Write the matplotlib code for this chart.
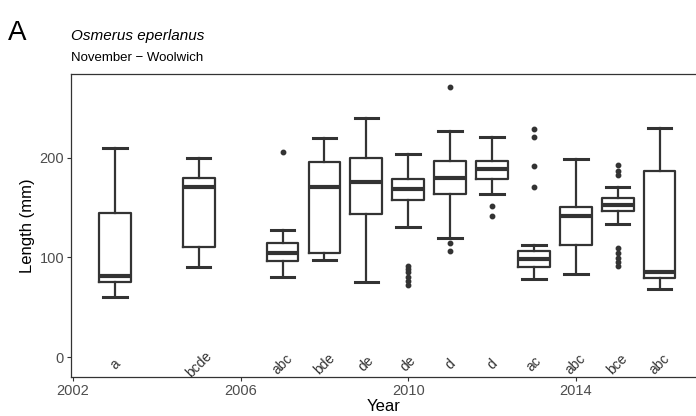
import matplotlib
matplotlib.use("Agg")
import matplotlib.pyplot as plt

plt.rcParams['font.family'] = ['Liberation Sans', 'DejaVu Sans']

years = [2003, 2005, 2007, 2008, 2009, 2010, 2011, 2012, 2013, 2014, 2015, 2016]
whisker_low = [60, 90, 80, 97, 75, 130, 119, 164, 78, 83, 134, 68]
q1 = [75, 110, 96, 104, 144, 158, 164, 179, 90, 112, 147, 79]
median = [81, 171, 104, 171, 176, 169, 180, 189, 98, 142, 153, 85]
q3 = [145, 180, 114, 196, 200, 179, 197, 197, 106, 151, 160, 187]
whisker_high = [210, 200, 127, 220, 240, 204, 227, 221, 112, 199, 171, 230]
outliers = [
    [],
    [],
    [206],
    [],
    [],
    [91, 88, 85, 80, 76, 72],
    [271, 114, 106],
    [152, 142],
    [229, 221, 192, 171],
    [],
    [193, 187, 183, 109, 104, 99, 95, 91],
    [],
]
letters = ['a', 'bcde', 'abc', 'bde', 'de', 'de', 'd', 'd', 'ac', 'abc', 'bce', 'abc']

line_col = '#333333'
stats = []
for i in range(len(years)):
    stats.append({
        'whislo': whisker_low[i], 'q1': q1[i], 'med': median[i],
        'q3': q3[i], 'whishi': whisker_high[i], 'fliers': outliers[i],
    })

fig = plt.figure(figsize=(6.96, 4.16), dpi=100)
ax = fig.add_axes([71 / 696, 39 / 416, 625 / 696, 303 / 416])

ax.bxp(stats, positions=years, widths=0.76, showfliers=True,
       boxprops=dict(color=line_col, linewidth=1.6),
       medianprops=dict(color=line_col, linewidth=3),
       whiskerprops=dict(color=line_col, linewidth=1.6),
       capprops=dict(color=line_col, linewidth=2.2),
       flierprops=dict(marker='o', markersize=3.2, markerfacecolor=line_col,
                       markeredgecolor=line_col, linestyle='none'),
       capwidths=0.56, manage_ticks=False)

for x, lab in zip(years, letters):
    ax.text(x, -7, lab, rotation=45, ha='center', va='center',
            fontsize=10, color='#333333')

ax.set_xlim(2001.95, 2016.87)
ax.set_ylim(-20, 284)
ax.set_xticks([2002, 2006, 2010, 2014])
ax.set_yticks([0, 100, 200])
ax.tick_params(colors='#333333', labelsize=10.5, length=3, width=0.8, pad=2)
for lbl in ax.get_xticklabels() + ax.get_yticklabels():
    lbl.set_color('#4d4d4d')
for side in ['top', 'left', 'bottom']:
    ax.spines[side].set_color('#333333')
    ax.spines[side].set_linewidth(0.9)
ax.spines['right'].set_visible(False)

ax.set_xlabel('Year', fontsize=12, labelpad=1)
ax.set_ylabel('Length (mm)', fontsize=12, labelpad=3)

fig.text(8 / 696, 1 - 40 / 416, 'A', fontsize=20)
fig.text(71 / 696, 1 - 40 / 416, 'Osmerus eperlanus', fontsize=11, style='italic')
fig.text(71 / 696, 1 - 61 / 416, 'November \u2212 Woolwich', fontsize=9.5)

fig.savefig('out.png', dpi=100)
